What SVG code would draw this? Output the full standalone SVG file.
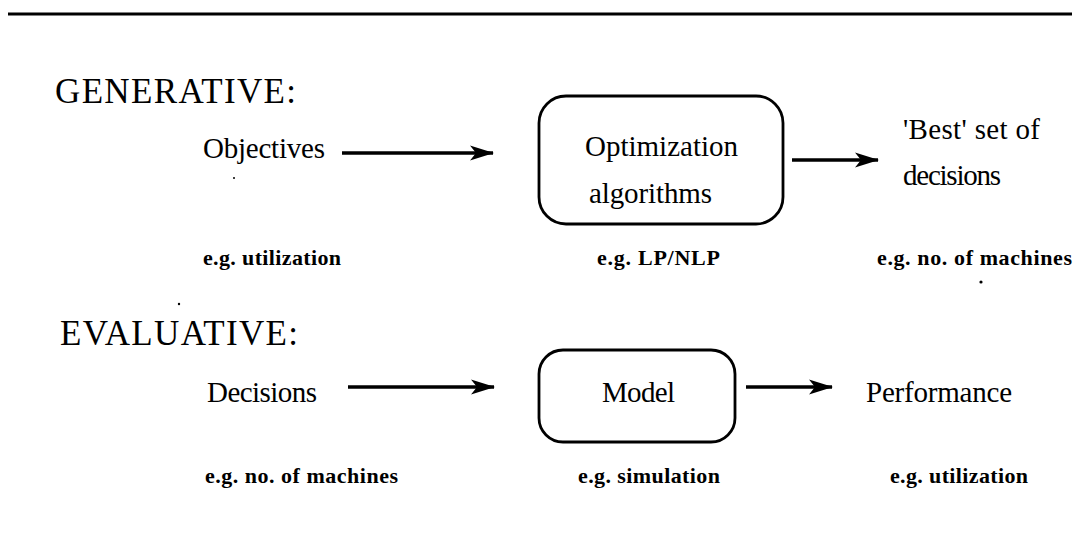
<svg xmlns="http://www.w3.org/2000/svg" width="1073" height="534" viewBox="0 0 1073 534">
  <style>
    text { font-family: "Liberation Serif", "Times New Roman", serif; fill: #000; }
    .head { font-size: 35px; }
    .main { font-size: 29px; }
    .note { font-size: 22px; font-weight: bold; }
    .box { fill: none; stroke: #000; stroke-width: 2.8; }
    .link { fill: none; stroke: #000; stroke-width: 3.4; marker-end: url(#arrow); }
  </style>
  <defs>
    <marker id="arrow" markerUnits="userSpaceOnUse" markerWidth="28" markerHeight="20" refX="23" refY="10" orient="auto">
      <path d="M0,2.5 L24,10 L0,17.5 L6,10 Z" fill="#000"/>
    </marker>
  </defs>
  <rect width="1073" height="534" fill="#fff"/>

  <!-- rule across the top -->
  <line x1="8" y1="14" x2="1072" y2="14" stroke="#000" stroke-width="3.2"/>

  <!-- section headings -->
  <text class="head" x="55" y="103" textLength="241" lengthAdjust="spacing">GENERATIVE:</text>
  <text class="head" x="60" y="345" textLength="238" lengthAdjust="spacing">EVALUATIVE:</text>

  <!-- generative row -->
  <g id="objectives">
    <text class="main" x="203" y="158" textLength="122" lengthAdjust="spacing">Objectives</text>
    <text class="note" x="203" y="265" textLength="138" lengthAdjust="spacing">e.g. utilization</text>
  </g>
  <g id="optimization">
    <rect class="box" x="539" y="96" width="244" height="128" rx="27" ry="27"/>
    <text class="main" x="585" y="156" textLength="153" lengthAdjust="spacing">Optimization</text>
    <text class="main" x="589" y="203" textLength="123" lengthAdjust="spacing">algorithms</text>
    <text class="note" x="597" y="265" textLength="123" lengthAdjust="spacing">e.g. LP/NLP</text>
  </g>
  <g id="best-decisions">
    <text class="main" x="903" y="139" textLength="137" lengthAdjust="spacing">'Best' set of</text>
    <text class="main" x="903" y="185" textLength="98" lengthAdjust="spacing">decisions</text>
    <text class="note" x="877" y="265" textLength="195" lengthAdjust="spacing">e.g. no. of machines</text>
  </g>

  <!-- evaluative row -->
  <g id="decisions">
    <text class="main" x="207" y="402" textLength="110" lengthAdjust="spacing">Decisions</text>
    <text class="note" x="205" y="483" textLength="193" lengthAdjust="spacing">e.g. no. of machines</text>
  </g>
  <g id="model">
    <rect class="box" x="539" y="350" width="196" height="92" rx="24" ry="24"/>
    <text class="main" x="602" y="402" textLength="73" lengthAdjust="spacing">Model</text>
    <text class="note" x="578" y="483" textLength="142" lengthAdjust="spacing">e.g. simulation</text>
  </g>
  <g id="performance">
    <text class="main" x="866" y="402" textLength="146" lengthAdjust="spacing">Performance</text>
    <text class="note" x="890" y="483" textLength="138" lengthAdjust="spacing">e.g. utilization</text>
  </g>

  <!-- connectors -->
  <g id="connectors">
    <line class="link" x1="342" y1="153" x2="493" y2="153"/>
    <line class="link" x1="792" y1="160" x2="878" y2="160"/>
    <line class="link" x1="348" y1="387" x2="494" y2="387"/>
    <line class="link" x1="746" y1="387" x2="832" y2="387"/>
  </g>

  <!-- specks -->
  <g fill="#000">
    <circle cx="234" cy="178" r="1"/>
    <circle cx="179" cy="304" r="1.2"/>
    <circle cx="981" cy="282" r="1.6"/>
  </g>
</svg>
